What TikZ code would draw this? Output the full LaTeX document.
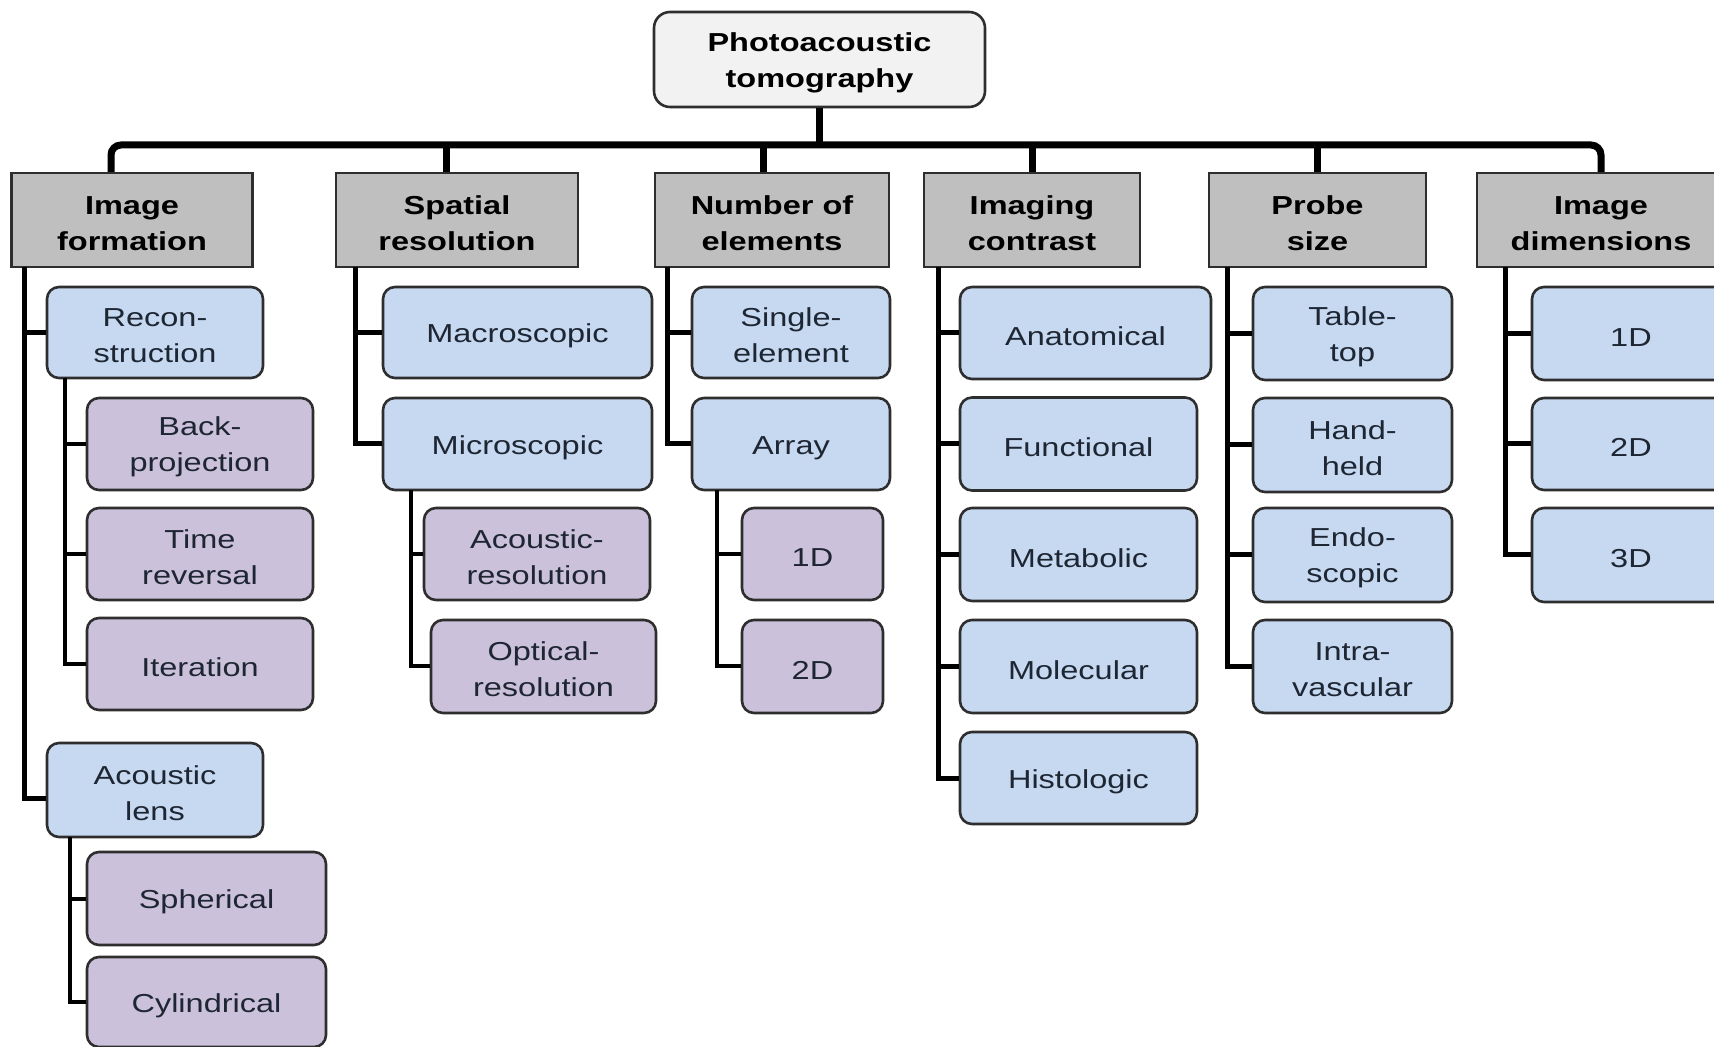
\documentclass[tikz,border=0pt]{standalone}
\usepackage{fontspec}
\setmainfont{Liberation Sans}[FakeStretch=1.25]
\usetikzlibrary{calc}
\definecolor{hdrgray}{HTML}{BFBFBF}
\definecolor{rootfill}{HTML}{F2F2F2}
\definecolor{bluefill}{HTML}{C6D9F1}
\definecolor{purplefill}{HTML}{CCC1DA}
\definecolor{edgecol}{HTML}{2E2E2E}
\definecolor{txtcol}{HTML}{1E2633}
\newcommand{\topstrut}{\rule{0pt}{12.6pt}}
\tikzset{
  sz/.style 2 args={minimum width=#1*0.5pt, minimum height=#2*0.5pt},
  basebox/.style={draw=edgecol, line width=1.3pt, align=center, inner sep=0pt,
    font=\fontsize{13}{18}\selectfont,
    execute at begin node={\rule{0pt}{12.8pt}}},
  rootbox/.style={basebox, fill=rootfill, rounded corners=8pt, font=\bfseries\fontsize{13}{18}\selectfont},
  hdr/.style={basebox, fill=hdrgray, line width=1.2pt, font=\bfseries\fontsize{13}{18}\selectfont},
  bluebox/.style={basebox, fill=bluefill, rounded corners=6pt, text=txtcol},
  purplebox/.style={basebox, fill=purplefill, rounded corners=6pt, text=txtcol},
  bus/.style={line width=3.5pt, black},
  trunk/.style={line width=2.5pt, black},
  subtrunk/.style={line width=2pt, black},
}
\begin{document}
\begin{tikzpicture}[x=0.5pt, y=-0.5pt]
\useasboundingbox (0,0) rectangle (1714,1047);
\clip (0,0) rectangle (1714,1047);
\fill[white] (0,0) rectangle (1714,1047);

% root and headers
\node[rootbox, sz={331}{95}] (root) at (819.5,59.5) {\topstrut Photoacoustic\\tomography};
\node[hdr, sz={241}{94}] (h1) at (132,220) {\topstrut Image\\formation};
\node[hdr, sz={242}{94}] (h2) at (457,220) {\topstrut Spatial\\resolution};
\node[hdr, sz={234}{94}] (h3) at (772,220) {\topstrut Number of\\elements};
\node[hdr, sz={216}{94}] (h4) at (1032,220) {\topstrut Imaging\\contrast};
\node[hdr, sz={217}{94}] (h5) at (1317.5,220) {\topstrut Probe\\size};
\node[hdr, sz={248}{94}] (h6) at (1601,220) {\topstrut Image\\dimensions};

% column 1
\node[bluebox, sz={216}{91}] (recon) at (155,332.5) {\topstrut Recon-\\struction};
\node[purplebox, sz={226}{92}] (backp) at (200,444) {\topstrut Back-\\projection};
\node[purplebox, sz={226}{92}] (timerev) at (200,554) {\topstrut Time\\reversal};
\node[purplebox, sz={226}{92}] (iter) at (200,664) {Iteration};
\node[bluebox, sz={216}{94}] (lens) at (155,790) {\topstrut Acoustic\\lens};
\node[purplebox, sz={239}{93}] (sph) at (206.5,898.5) {Spherical};
\node[purplebox, sz={239}{90}] (cyl) at (206.5,1002) {Cylindrical};

% column 2
\node[bluebox, sz={269}{91}] (macro) at (517.5,332.5) {Macroscopic};
\node[bluebox, sz={269}{92}] (micro) at (517.5,444) {Microscopic};
\node[purplebox, sz={226}{92}] (acres) at (537,554) {\topstrut Acoustic-\\resolution};
\node[purplebox, sz={225}{93}] (optres) at (543.5,666.5) {\topstrut Optical-\\resolution};

% column 3
\node[bluebox, sz={198}{91}] (single) at (791,332.5) {\topstrut Single-\\element};
\node[bluebox, sz={198}{92}] (array) at (791,444) {Array};
\node[purplebox, sz={141}{92}] (arrA) at (812.5,554) {1D};
\node[purplebox, sz={141}{93}] (arrB) at (812.5,666.5) {2D};

% column 4
\node[bluebox, sz={251}{92}] (anat) at (1085.5,333) {Anatomical};
\node[bluebox, sz={237}{93}] (func) at (1078.5,444) {Functional};
\node[bluebox, sz={237}{93}] (metab) at (1078.5,554.5) {Metabolic};
\node[bluebox, sz={237}{93}] (molec) at (1078.5,666.5) {Molecular};
\node[bluebox, sz={237}{92}] (histo) at (1078.5,778) {Histologic};

% column 5
\node[bluebox, sz={199}{93}] (table) at (1352.5,333.5) {\topstrut Table-\\top};
\node[bluebox, sz={199}{94}] (hand) at (1352.5,445) {\topstrut Hand-\\held};
\node[bluebox, sz={199}{94}] (endo) at (1352.5,555) {\topstrut Endo-\\scopic};
\node[bluebox, sz={199}{93}] (intra) at (1352.5,666.5) {\topstrut Intra-\\vascular};

% column 6
\node[bluebox, sz={198}{93}] (dimA) at (1631,333.5) {1D};
\node[bluebox, sz={198}{92}] (dimB) at (1631,444) {2D};
\node[bluebox, sz={198}{94}] (dimC) at (1631,555) {3D};

% bus
\coordinate (b1) at (111,145);
\coordinate (b2) at (446,145);
\coordinate (b3) at (763,145);
\coordinate (b4) at (1032,145);
\coordinate (b5) at (1317,145);
\coordinate (b6) at (1601,145);
\draw[bus, rounded corners=5pt] (b1 |- h1.north) -- (b1) -- (b6) -- (b6 |- h6.north);
\draw[bus] (b2) -- (b2 |- h2.north);
\draw[bus] (b3) -- (b3 |- h3.north);
\draw[bus] (b4) -- (b4 |- h4.north);
\draw[bus] (b5) -- (b5 |- h5.north);
\draw[bus] (root.south) -- (root.south |- b1);

% trunks
\coordinate (t1) at (24,267);
\coordinate (t2) at (355,267);
\coordinate (t3) at (667,267);
\coordinate (t4) at (938,267);
\coordinate (t5) at (1227,267);
\coordinate (t6) at (1505,267);
\coordinate (s1) at (65,378);
\coordinate (s1b) at (70,837);
\coordinate (s2) at (411,490);
\coordinate (s3) at (717,490);

\draw[trunk] (t1) |- (recon.west);
\draw[trunk] (t1) |- ($(lens.west)+(0,8)$);
\draw[subtrunk] (s1) |- (backp.west);
\draw[subtrunk] (s1) |- (timerev.west);
\draw[subtrunk] (s1) |- (iter.west);
\draw[subtrunk] (s1b) |- (sph.west);
\draw[subtrunk] (s1b) |- (cyl.west);

\draw[trunk] (t2) |- (macro.west);
\draw[trunk] (t2) |- (micro.west);
\draw[subtrunk] (s2) |- (acres.west);
\draw[subtrunk] (s2) |- (optres.west);

\draw[trunk] (t3) |- (single.west);
\draw[trunk] (t3) |- (array.west);
\draw[subtrunk] (s3) |- (arrA.west);
\draw[subtrunk] (s3) |- (arrB.west);

\draw[trunk] (t4) |- (anat.west);
\draw[trunk] (t4) |- (func.west);
\draw[trunk] (t4) |- (metab.west);
\draw[trunk] (t4) |- (molec.west);
\draw[trunk] (t4) |- (histo.west);

\draw[trunk] (t5) |- (table.west);
\draw[trunk] (t5) |- (hand.west);
\draw[trunk] (t5) |- (endo.west);
\draw[trunk] (t5) |- (intra.west);

\draw[trunk] (t6) |- (dimA.west);
\draw[trunk] (t6) |- (dimB.west);
\draw[trunk] (t6) |- (dimC.west);
\end{tikzpicture}
\end{document}
